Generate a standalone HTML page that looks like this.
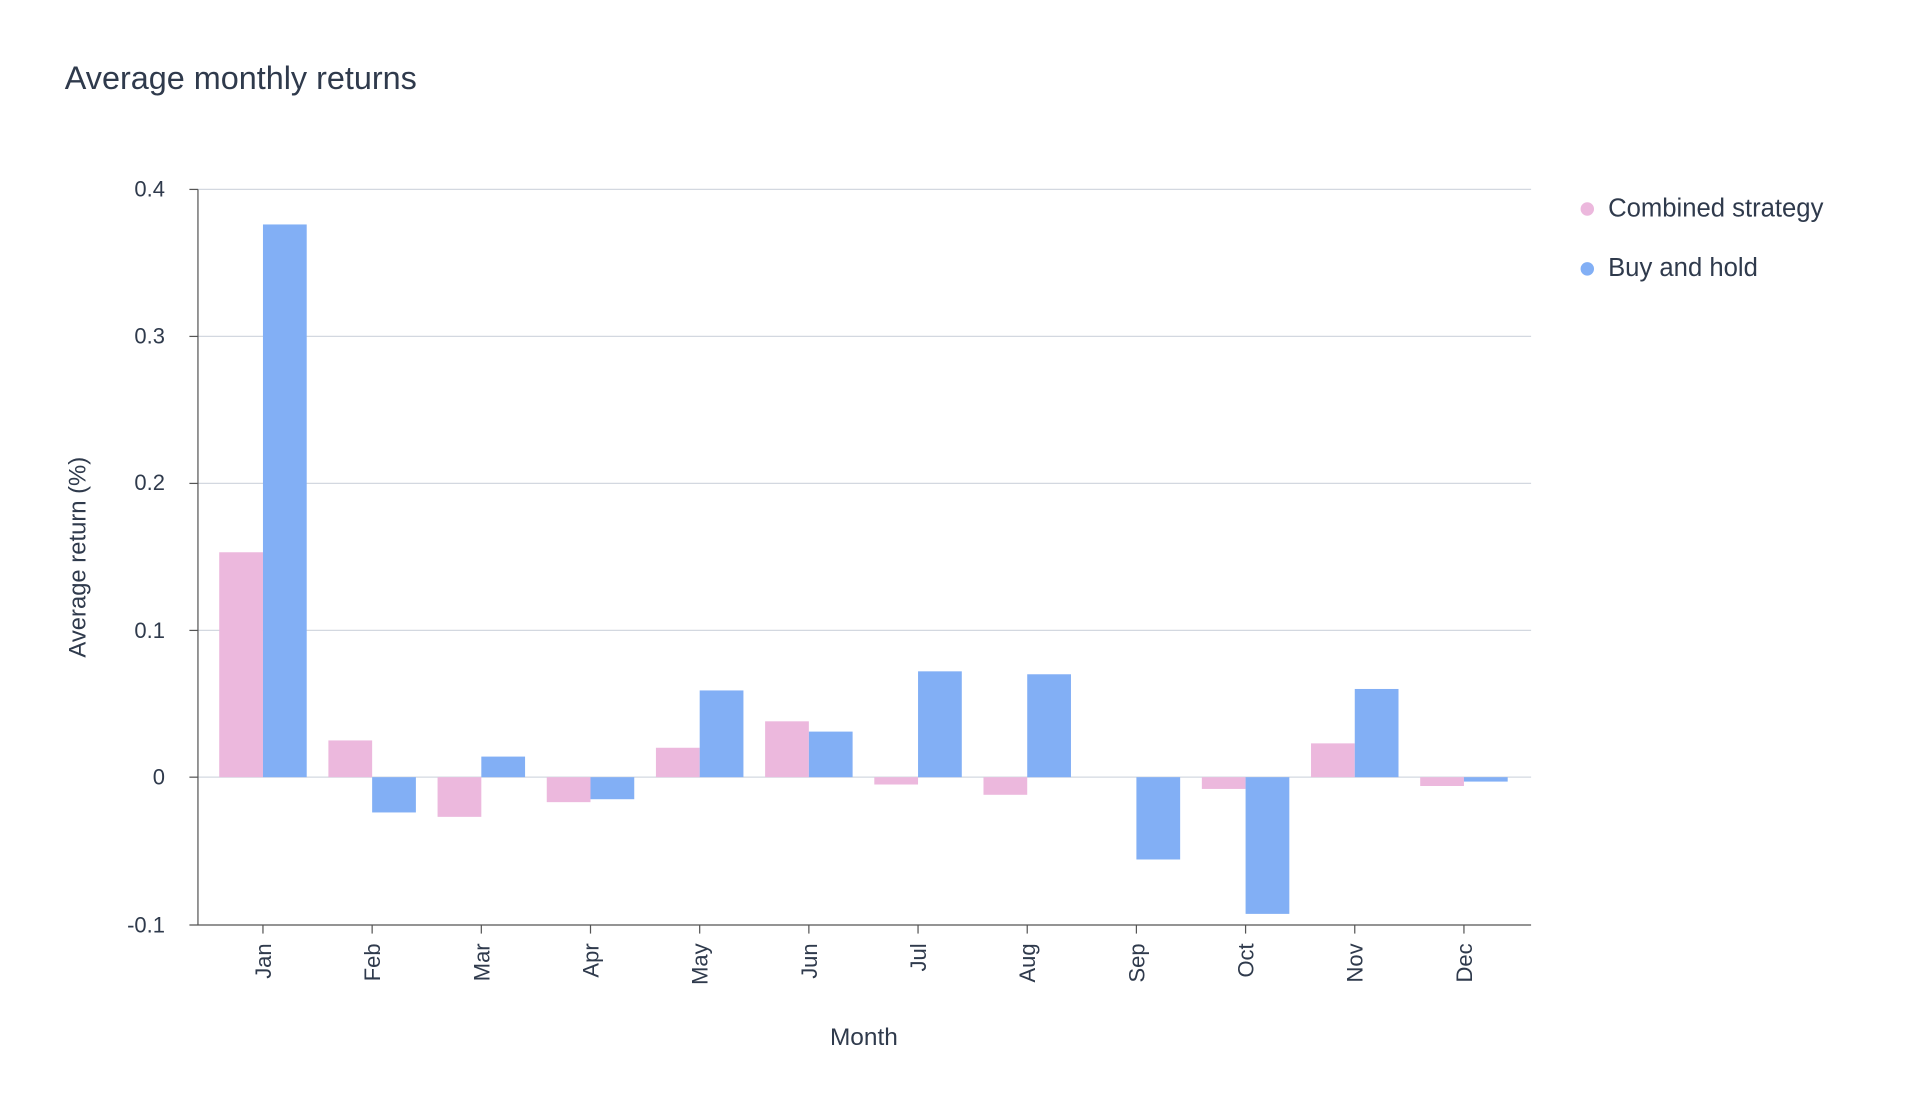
<!DOCTYPE html>
<html><head><meta charset="utf-8"><style>html,body{margin:0;padding:0;background:#fff}svg{display:block}text{font-family:"Liberation Sans",sans-serif;fill:#2f3a4c}</style></head>
<body>
<svg width="1916" height="1112" viewBox="0 0 1568 910" xmlns="http://www.w3.org/2000/svg">
<rect width="1568" height="910" fill="#fff"/>
<text x="53" y="73" font-size="26.5">Average monthly returns</text>
<g stroke="#d3d8e0" stroke-width="1">
<line x1="162" y1="155" x2="1253" y2="155"/>
<line x1="162" y1="275.3" x2="1253" y2="275.3"/>
<line x1="162" y1="395.6" x2="1253" y2="395.6"/>
<line x1="162" y1="515.9" x2="1253" y2="515.9"/>
<line x1="162" y1="636" x2="1253" y2="636"/>
</g>
<g stroke="#555" stroke-width="1">
<line x1="162" y1="155" x2="162" y2="757"/>
<line x1="155" y1="757" x2="1253" y2="757"/>
<line x1="155" y1="155" x2="162" y2="155"/><line x1="155" y1="275.3" x2="162" y2="275.3"/><line x1="155" y1="395.6" x2="162" y2="395.6"/><line x1="155" y1="515.9" x2="162" y2="515.9"/><line x1="155" y1="636" x2="162" y2="636"/>
</g>
<g font-size="18" text-anchor="end">
<text x="135" y="161">0.4</text><text x="135" y="281">0.3</text><text x="135" y="401">0.2</text><text x="135" y="522">0.1</text><text x="135" y="642">0</text><text x="135" y="763">-0.1</text>
</g>
<text transform="translate(70,456) rotate(-90)" font-size="19.5" text-anchor="middle">Average return (%)</text>
<text x="707" y="855" font-size="20" text-anchor="middle">Month</text>
<g id="bars"></g>
<circle cx="1299" cy="171" r="5.5" fill="#ecb8dd"/><text x="1316" y="177" font-size="21">Combined strategy</text>
<circle cx="1299" cy="220" r="5.5" fill="#82aff5"/><text x="1316" y="226" font-size="21">Buy and hold</text>
</svg>
<script>
var m=["Jan","Feb","Mar","Apr","May","Jun","Jul","Aug","Sep","Oct","Nov","Dec"];
var p=[.153,.025,-.027,-.017,.020,.038,-.005,-.012,0,-.008,.023,-.006];
var b=[.376,-.024,.014,-.015,.059,.031,.072,.070,-.056,-.093,.060,-.003];
var g=document.getElementById("bars"),s="";
function r(x,v,c){var y0=636,y=636-v*1203;var t=Math.min(y,y0),h=Math.abs(y-y0);s+='<rect x="'+x+'" y="'+t+'" width="35.8" height="'+h+'" fill="'+c+'"/>';}
for(var i=0;i<12;i++){var cx=215.2+i*89.35;r(cx-35.8,p[i],"#ecb8dd");r(cx,b[i],"#82aff5");
s+='<line x1="'+cx+'" y1="757" x2="'+cx+'" y2="764" stroke="#555"/>';
s+='<text transform="translate('+(cx+6.5)+',772) rotate(-90)" font-size="18" text-anchor="end">'+m[i]+'</text>';}
g.innerHTML=s;
</script>
</body></html>
